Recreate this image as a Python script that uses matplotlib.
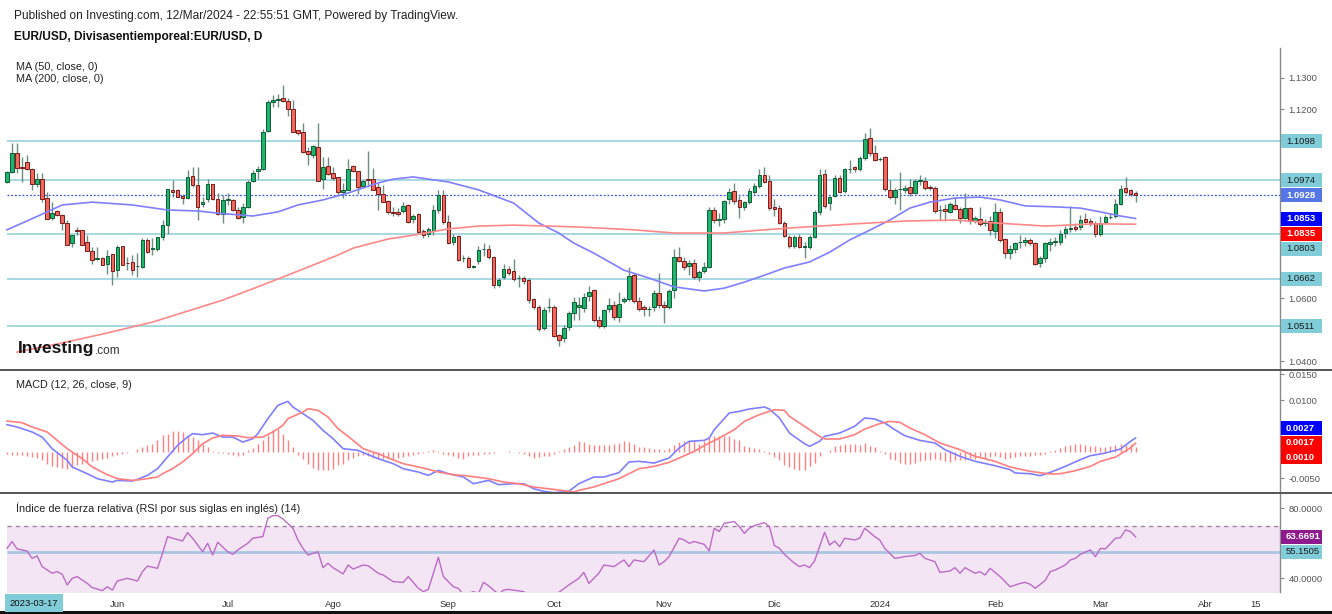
import numpy as np
import pandas as pd
import matplotlib
matplotlib.use("Agg")
import matplotlib.pyplot as plt
from matplotlib.patches import Rectangle
from matplotlib.lines import Line2D

plt.rcParams['font.family'] = ['Liberation Sans', 'DejaVu Sans']

# ---------------- data ----------------
last_date = '2024-03-12'

opens = [
1.0970,1.1000,1.1060,1.1015,1.1033,1.1009,1.0961,1.0980,1.0917,1.0856,
1.0876,1.0864,1.0840,1.0774,1.0816,1.0816,1.0777,1.0750,1.0726,1.0728,
1.0710,1.0739,1.0691,1.0765,1.0712,1.0715,1.0702,1.0699,1.0784,1.0756,
1.0756,1.0795,1.0832,1.0944,1.0944,1.0924,1.0917,1.0988,1.0959,1.0898,
1.0914,1.0961,1.0915,1.0866,1.0912,1.0912,1.0880,1.0859,1.0889,1.0972,
1.1005,1.1009,1.1131,1.1224,1.1229,1.1237,1.1226,1.1200,1.1134,1.1129,
1.1067,1.1055,1.1081,1.0978,1.1021,1.0996,1.0984,1.0938,1.0944,1.1020,
1.1004,1.0956,1.0977,1.0980,1.0954,1.0930,1.0909,1.0875,1.0875,1.0878,
1.0896,1.0850,1.0866,1.0813,1.0804,1.0813,1.0880,1.0928,1.0841,1.0780,
1.0798,1.0727,1.0729,1.0700,1.0718,1.0756,1.0756,1.0730,1.0642,1.0666,
1.0692,1.0686,1.0663,1.0663,1.0658,1.0596,1.0573,1.0504,1.0571,1.0571,
1.0483,1.0473,1.0510,1.0552,1.0573,1.0570,1.0608,1.0626,1.0531,1.0512,
1.0565,1.0579,1.0539,1.0591,1.0597,1.0674,1.0591,1.0573,1.0565,1.0571,
1.0618,1.0579,1.0573,1.0626,1.0730,1.0719,1.0702,1.0711,1.0668,1.0686,
1.0700,1.0880,1.0848,1.0851,1.0914,1.0940,1.0912,1.0888,1.0906,1.0938,
1.0956,1.0991,1.0972,1.0889,1.0887,1.0838,1.0795,1.0766,1.0795,1.0764,
1.0764,1.0795,1.0873,1.0993,1.0903,1.0926,1.0981,1.0940,1.1009,1.1016,
1.1010,1.1044,1.1108,1.1060,1.1041,1.1047,1.0944,1.0922,1.0946,1.0944,
1.0952,1.0933,1.0973,1.0973,1.0954,1.0951,1.0880,1.0882,1.0875,1.0896,
1.0882,1.0854,1.0885,1.0846,1.0850,1.0838,1.0845,1.0814,1.0875,1.0788,
1.0745,1.0756,1.0777,1.0780,1.0785,1.0774,1.0711,1.0727,1.0772,1.0777,
1.0780,1.0808,1.0819,1.0827,1.0825,1.0850,1.0846,1.0840,1.0804,1.0843,
1.0857,1.0861,1.0898,1.0949,1.0944,1.0933]

highs = [
1.1005,1.1094,1.1094,1.1049,1.1054,1.1012,1.0998,1.0998,1.0938,1.0906,
1.0880,1.0868,1.0848,1.0802,1.0827,1.0818,1.0802,1.0763,1.0763,1.0731,
1.0752,1.0739,1.0768,1.0765,1.0731,1.0737,1.0742,1.0790,1.0790,1.0790,
1.0795,1.0848,1.0946,1.0975,1.0946,1.0930,1.1007,1.1015,1.1015,1.0922,
1.0978,1.0961,1.0933,1.0928,1.0933,1.0914,1.0891,1.0901,1.0975,1.1008,
1.1020,1.1136,1.1228,1.1245,1.1247,1.1277,1.1234,1.1229,1.1134,1.1155,
1.1081,1.1087,1.1155,1.1049,1.1049,1.1018,1.0984,1.0965,1.1042,1.1023,
1.1004,1.0975,1.1068,1.1012,1.0965,1.0959,1.0912,1.0890,1.0885,1.0905,
1.0900,1.0868,1.0872,1.0820,1.0825,1.0895,1.0945,1.0945,1.0865,1.0805,
1.0800,1.0738,1.0734,1.0705,1.0765,1.0775,1.0770,1.0735,1.0664,1.0710,
1.0702,1.0726,1.0675,1.0669,1.0665,1.0600,1.0580,1.0572,1.0600,1.0577,
1.0487,1.0515,1.0560,1.0605,1.0605,1.0617,1.0638,1.0630,1.0545,1.0565,
1.0600,1.0590,1.0621,1.0605,1.0698,1.0680,1.0605,1.0580,1.0575,1.0625,
1.0679,1.0590,1.0630,1.0755,1.0762,1.0730,1.0720,1.0725,1.0690,1.0715,
1.0890,1.0890,1.0870,1.0912,1.0951,1.0967,1.0925,1.0908,1.0950,1.0965,
1.1010,1.1017,1.0990,1.0915,1.0895,1.0845,1.0800,1.0800,1.0805,1.0780,
1.0800,1.0880,1.1009,1.1009,1.0925,1.0990,1.0990,1.1012,1.1039,1.1020,
1.1050,1.1126,1.1139,1.1085,1.1048,1.1050,1.0975,1.0950,1.1002,1.0960,
1.0978,1.0980,1.0990,1.0985,1.0960,1.0955,1.0895,1.0900,1.0905,1.0922,
1.0890,1.0935,1.0890,1.0860,1.0889,1.0850,1.0860,1.0901,1.0885,1.0790,
1.0770,1.0780,1.0800,1.0795,1.0792,1.0780,1.0735,1.0780,1.0790,1.0795,
1.0815,1.0830,1.0893,1.0838,1.0865,1.0869,1.0855,1.0845,1.0861,1.0865,
1.0870,1.0915,1.0960,1.0984,1.0948,1.0940]

lows = [
1.0965,1.0998,1.0996,1.0970,1.1007,1.0943,1.0954,1.0906,1.0851,1.0848,
1.0860,1.0816,1.0768,1.0763,1.0800,1.0768,1.0750,1.0710,1.0721,1.0705,
1.0678,1.0641,1.0668,1.0705,1.0689,1.0673,1.0668,1.0697,1.0745,1.0737,
1.0750,1.0784,1.0805,1.0922,1.0920,1.0899,1.0915,1.0954,1.0848,1.0890,
1.0906,1.0912,1.0864,1.0838,1.0896,1.0878,1.0852,1.0838,1.0885,1.0970,
1.0980,1.1007,1.1128,1.1208,1.1208,1.1224,1.1178,1.1127,1.1118,1.1062,
1.1023,1.1044,1.0972,1.0947,1.0991,1.0975,1.0923,1.0918,1.0942,1.1002,
1.0930,1.0954,1.0954,1.0944,1.0880,1.0905,1.0868,1.0862,1.0860,1.0870,
1.0838,1.0838,1.0806,1.0790,1.0793,1.0800,1.0870,1.0835,1.0772,1.0770,
1.0718,1.0715,1.0696,1.0695,1.0710,1.0735,1.0725,1.0632,1.0635,1.0660,
1.0675,1.0655,1.0635,1.0645,1.0585,1.0565,1.0495,1.0500,1.0555,1.0478,
1.0448,1.0460,1.0500,1.0530,1.0530,1.0555,1.0590,1.0525,1.0505,1.0505,
1.0555,1.0530,1.0525,1.0585,1.0590,1.0585,1.0560,1.0545,1.0545,1.0560,
1.0570,1.0522,1.0565,1.0600,1.0715,1.0690,1.0675,1.0660,1.0655,1.0680,
1.0695,1.0840,1.0830,1.0840,1.0900,1.0900,1.0856,1.0880,1.0900,1.0930,
1.0950,1.0965,1.0880,1.0860,1.0835,1.0795,1.0760,1.0760,1.0760,1.0727,
1.0755,1.0790,1.0865,1.0885,1.0880,1.0920,1.0935,1.0935,1.0996,1.1000,
1.1005,1.1040,1.1050,1.1035,1.1035,1.0940,1.0915,1.0900,1.0880,1.0935,
1.0925,1.0930,1.0960,1.0945,1.0945,1.0870,1.0848,1.0845,1.0870,1.0880,
1.0840,1.0850,1.0835,1.0840,1.0830,1.0830,1.0801,1.0790,1.0780,1.0727,
1.0723,1.0745,1.0760,1.0765,1.0770,1.0705,1.0700,1.0715,1.0750,1.0765,
1.0770,1.0790,1.0810,1.0812,1.0815,1.0840,1.0830,1.0795,1.0796,1.0838,
1.0850,1.0855,1.0895,1.0932,1.0925,1.0907]

closes = [
1.1000,1.1060,1.1012,1.1013,1.1009,1.0961,1.0980,1.0915,1.0851,1.0872,
1.0864,1.0840,1.0770,1.0802,1.0813,1.0770,1.0750,1.0721,1.0726,1.0707,
1.0734,1.0687,1.0763,1.0707,1.0711,1.0691,1.0703,1.0784,1.0747,1.0758,
1.0793,1.0832,1.0946,1.0936,1.0922,1.0917,1.0986,1.0959,1.0890,1.0907,
1.0961,1.0914,1.0866,1.0912,1.0914,1.0880,1.0854,1.0889,1.0968,1.0999,
1.1009,1.1129,1.1224,1.1229,1.1232,1.1226,1.1200,1.1129,1.1124,1.1063,
1.1058,1.1083,1.0973,1.1016,1.0993,1.0981,1.0938,1.0944,1.1010,1.1004,
1.0954,1.0973,1.0976,1.0944,1.0930,1.0907,1.0875,1.0869,1.0867,1.0893,
1.0843,1.0862,1.0811,1.0801,1.0819,1.0880,1.0928,1.0841,1.0776,1.0795,
1.0721,1.0727,1.0700,1.0702,1.0753,1.0756,1.0730,1.0642,1.0658,1.0692,
1.0681,1.0660,1.0664,1.0655,1.0594,1.0573,1.0501,1.0563,1.0571,1.0481,
1.0467,1.0504,1.0552,1.0589,1.0579,1.0605,1.0619,1.0531,1.0512,1.0561,
1.0579,1.0539,1.0581,1.0597,1.0672,1.0591,1.0566,1.0566,1.0566,1.0616,
1.0577,1.0571,1.0623,1.0730,1.0719,1.0700,1.0711,1.0668,1.0684,1.0700,
1.0880,1.0848,1.0851,1.0909,1.0938,1.0909,1.0888,1.0906,1.0940,1.0956,
1.0991,1.0970,1.0887,1.0882,1.0838,1.0798,1.0766,1.0793,1.0764,1.0764,
1.0795,1.0873,1.0991,1.0894,1.0922,1.0981,1.0938,1.1009,1.1010,1.1009,
1.1044,1.1104,1.1060,1.1039,1.1041,1.0946,1.0922,1.0944,1.0946,1.0949,
1.0933,1.0973,1.0973,1.0949,1.0951,1.0877,1.0880,1.0877,1.0898,1.0882,
1.0854,1.0885,1.0848,1.0854,1.0836,1.0843,1.0817,1.0875,1.0785,1.0742,
1.0756,1.0774,1.0777,1.0785,1.0774,1.0709,1.0727,1.0774,1.0780,1.0782,
1.0804,1.0819,1.0824,1.0820,1.0848,1.0843,1.0840,1.0804,1.0840,1.0857,
1.0857,1.0898,1.0946,1.0938,1.0931,1.0928]

# moving averages, sampled at candle numbers (1 = first candle)
ma50_idx = [1,9,12,18,26,33,39,43,50,55,59,64,69,75,78,82,89,95,102,107,111,114,118,124,129,
            134,140,144,148,152,156,161,165,169,173,177,181,185,190,195,199,204,210,215,219,223,226]
ma50_val = [1.0817,1.0874,1.0896,1.0905,1.0896,1.0880,1.0877,1.0870,1.0861,1.0874,1.0896,1.0912,
            1.0934,1.0966,1.0978,1.0985,1.0969,1.0944,1.0902,1.0839,1.0807,1.0775,1.0743,1.0689,
            1.0664,1.0636,1.0623,1.0632,1.0651,1.0673,1.0696,1.0715,1.0746,1.0785,1.0816,1.0848,
            1.0886,1.0905,1.0918,1.0921,1.0912,1.0893,1.0890,1.0886,1.0874,1.0861,1.0853]
ma200_idx = [3,12,20,30,39,44,51,59,67,70,77,82,89,95,102,109,115,126,134,144,152,160,170,180,
             190,198,208,218,226]
ma200_val = [1.0429,1.0458,1.0486,1.0524,1.0569,1.0594,1.0636,1.0686,1.0737,1.0759,1.0788,1.0800,
             1.0820,1.0829,1.0832,1.0829,1.0826,1.0817,1.0807,1.0807,1.0817,1.0826,1.0836,1.0845,
             1.0848,1.0839,1.0829,1.0836,1.0835]

# horizontal drawing levels
levels = [1.1098, 1.0974, 1.0803, 1.0662, 1.0511]

# MACD (12, 26, close, 9)
macd_idx = [1,3,6,8,10,13,14,17,19,22,23,26,27,29,31,33,35,37,38,40,42,44,46,48,50,51,53,55,57,58,
            60,62,64,66,68,71,73,75,78,80,83,85,87,89,92,94,97,99,102,104,106,108,110,113,115,118,
            120,123,125,127,130,132,133,135,137,140,141,142,145,147,149,152,153,155,157,160,161,163,
            164,167,170,172,174,176,178,180,183,186,188,191,194,198,201,202,205,207,209,212,215,217,
            220,223,225,226]
macd_val = [0.00526,0.00481,0.00385,0.00288,0.00064,-0.00160,-0.00288,-0.00417,-0.00513,-0.00577,
            -0.00545,-0.00558,-0.00526,-0.00449,-0.00321,-0.00096,0.00128,0.00288,0.00353,0.00333,
            0.00365,0.00288,0.00288,0.00192,0.00256,0.00353,0.00641,0.00897,0.00974,0.00865,
            0.00737,0.00609,0.00417,0.00256,0.00064,0.00032,-0.00051,-0.00128,-0.00224,-0.00321,
            -0.00385,-0.00449,-0.00353,-0.00417,-0.00481,-0.00609,-0.00545,-0.00628,-0.00609,-0.00609,
            -0.00705,-0.00756,-0.00782,-0.00756,-0.00609,-0.00481,-0.00481,-0.00397,-0.00192,-0.00179,
            -0.00212,-0.00147,-0.00115,0.00077,0.00205,0.00224,0.00269,0.00429,0.00750,0.00782,
            0.00827,0.00865,0.00827,0.00654,0.00365,0.00160,0.00109,0.00205,0.00301,0.00365,
            0.00494,0.00654,0.00635,0.00558,0.00429,0.00314,0.00224,0.00173,0.00045,-0.00083,
            -0.00179,-0.00263,-0.00340,-0.00404,-0.00417,-0.00455,-0.00391,-0.00276,-0.00147,-0.00071,
            -0.00019,0.00058,0.00205,0.00270]
sig_idx = [1,4,6,9,11,13,16,18,21,23,26,28,31,32,34,36,38,40,42,44,47,49,52,54,56,57,60,61,63,65,
           67,70,72,75,77,80,84,87,90,93,97,100,103,106,110,113,114,115,118,120,123,125,127,130,133,
           135,138,140,143,146,148,151,154,156,157,160,163,164,167,170,172,175,177,179,181,184,187,
           191,194,198,201,205,209,211,214,217,219,222,225,226]
sig_val = [0.00596,0.00564,0.00481,0.00385,0.00224,0.00064,-0.00128,-0.00288,-0.00436,-0.00513,
           -0.00545,-0.00526,-0.00481,-0.00417,-0.00321,-0.00192,-0.00032,0.00160,0.00269,0.00321,
           0.00308,0.00276,0.00288,0.00385,0.00513,0.00641,0.00769,0.00833,0.00801,0.00673,
           0.00449,0.00224,0.00064,-0.00032,-0.00115,-0.00224,-0.00308,-0.00385,-0.00436,-0.00462,
           -0.00513,-0.00577,-0.00609,-0.00673,-0.00718,-0.00756,-0.00769,-0.00737,-0.00673,-0.00609,
           -0.00513,-0.00417,-0.00321,-0.00276,-0.00199,-0.00115,0.00013,0.00122,0.00269,0.00429,
           0.00590,0.00718,0.00814,0.00801,0.00686,0.00494,0.00301,0.00250,0.00250,0.00333,
           0.00442,0.00545,0.00590,0.00571,0.00462,0.00333,0.00173,0.00045,-0.00083,-0.00179,
           -0.00288,-0.00372,-0.00423,-0.00417,-0.00359,-0.00276,-0.00179,-0.00096,0.00080,0.00170]
hist_val = [
-0.00038,-0.00051,-0.00051,-0.00064,-0.00077,-0.00096,-0.00115,-0.00160,-0.00224,-0.00269,
-0.00288,-0.00308,-0.00321,-0.00301,-0.00256,-0.00224,-0.00192,-0.00179,-0.00160,-0.00141,
-0.00115,-0.00077,-0.00051,-0.00032,-0.00013,0.0,
0.00064,0.00096,0.00128,0.00160,0.00224,0.00321,0.00353,0.00397,0.00397,0.00385,
0.00321,0.00288,0.00224,0.00160,0.00096,0.00013,-0.00013,-0.00013,-0.00032,-0.00051,
-0.00077,-0.00051,0.00032,0.00077,0.00160,0.00224,0.00321,0.00417,0.00449,0.00353,
0.00224,0.00096,-0.00064,-0.00128,-0.00224,-0.00308,-0.00340,-0.00340,-0.00340,-0.00321,
-0.00256,-0.00224,-0.00160,-0.00115,-0.00077,-0.00051,-0.00077,-0.00115,-0.00128,-0.00128,
-0.00115,-0.00128,-0.00115,-0.00096,-0.00077,-0.00051,-0.00032,-0.00013,0.00013,0.00045,
0.00013,-0.00032,-0.00051,-0.00077,-0.00115,-0.00128,-0.00077,-0.00051,-0.00064,-0.00032,
-0.00032,-0.00013,0.0,0.0,0.00013,0.0,-0.00013,-0.00032,-0.00077,-0.00115,
-0.00096,-0.00077,-0.00077,-0.00032,0.00013,0.00064,0.00096,0.00128,0.00205,0.00192,
0.00160,0.00141,0.00141,0.00128,0.00141,0.00160,0.00179,0.00205,0.00190,0.00150,
0.00096,0.00090,0.00077,0.00064,0.00058,0.00045,0.00077,0.00141,0.00186,0.00205,
0.00205,0.00218,0.00160,0.00205,0.00269,0.00301,0.00314,0.00301,0.00314,0.00250,
0.00237,0.00122,0.00096,0.00077,0.00058,0.00013,-0.00032,-0.00096,-0.00147,-0.00244,
-0.00288,-0.00327,-0.00353,-0.00340,-0.00276,-0.00212,-0.00071,-0.00006,0.00045,0.00109,
0.00141,0.00160,0.00160,0.00160,0.00141,0.00173,0.00122,0.00096,0.00013,-0.00032,
-0.00135,-0.00160,-0.00212,-0.00224,-0.00231,-0.00212,-0.00179,-0.00160,-0.00147,-0.00135,
-0.00147,-0.00179,-0.00199,-0.00160,-0.00147,-0.00160,-0.00115,-0.00135,-0.00096,-0.00115,
-0.00096,-0.00083,-0.00096,-0.00135,-0.00115,-0.00096,-0.00071,-0.00071,-0.00071,-0.00051,
-0.00051,-0.00032,0.00013,0.00045,0.00077,0.00109,0.00141,0.00160,0.00160,0.00141,
0.00122,0.00109,0.00096,0.00096,0.00122,0.00141,0.00160,0.00141,0.00160,0.00100]

# RSI (14)
rsi_idx = [1,2,3,5,6,7,8,10,11,12,13,14,15,17,18,19,20,21,22,23,25,27,28,29,31,32,33,34,36,37,
           38,40,41,42,43,45,46,47,49,50,52,53,54,55,56,58,59,60,61,63,64,65,66,68,69,70,72,73,75,76,
           78,80,81,83,84,85,86,87,88,90,91,92,94,95,96,97,99,100,101,103,104,105,107,109,110,111,113,
           115,116,117,119,120,122,124,125,126,128,130,131,132,133,135,136,137,138,140,141,142,143,144,
           146,147,148,149,150,152,153,154,155,156,158,159,160,161,162,164,165,166,167,168,170,171,172,
           174,175,176,178,179,180,182,183,184,186,187,189,190,191,192,194,195,196,197,199,200,201,203,
           204,205,206,208,209,210,212,213,214,215,217,218,219,220,222,223,224,225,226]
rsi_val = [57.1,61.0,56.8,55.6,51.4,52.8,46.7,42.9,43.8,42.3,36.2,40.0,41.0,37.1,34.7,33.9,33.0,35.2,
           33.3,38.5,40.0,38.5,43.8,47.0,45.7,54.3,63.8,62.9,61.3,66.1,62.9,55.2,60.0,53.3,60.6,55.2,
           53.7,56.2,60.0,62.9,63.8,74.3,75.8,75.8,73.9,68.6,61.9,57.1,53.3,55.2,46.1,48.6,46.1,42.5,
           47.6,45.3,47.6,47.2,42.9,41.9,38.1,37.7,41.0,34.3,32.4,33.7,42.9,52.0,41.0,35.2,34.3,30.5,
           32.4,31.4,37.7,35.8,30.9,33.3,33.7,32.8,32.4,30.5,28.6,30.5,29.5,32.0,36.2,40.0,43.4,37.1,
           42.9,47.6,46.7,50.5,46.7,50.5,49.5,56.2,47.6,49.5,52.4,62.9,61.9,60.0,61.0,59.4,55.6,68.6,
           66.7,71.4,72.4,69.5,65.7,68.6,70.1,71.8,69.5,58.7,57.1,53.7,48.6,46.7,47.6,46.1,49.9,66.3,
           59.0,61.3,58.1,62.9,61.9,62.9,68.6,63.8,61.9,57.1,51.4,51.8,52.4,53.0,54.3,51.4,49.5,43.4,
           44.2,46.1,42.9,46.1,42.9,43.8,41.9,45.7,41.0,38.1,35.2,37.1,37.7,36.6,34.3,38.9,43.8,44.8,
           47.6,50.5,51.4,53.7,56.2,52.4,57.1,56.8,62.9,63.2,67.6,66.7,63.6691]
rsi_level = 55.1505
rsi_band = (30, 70)

tick_dates = ['2023-06-01','2023-07-03','2023-08-01','2023-09-01','2023-10-02','2023-11-01',
              '2023-12-01','2024-01-01','2024-02-01','2024-03-01','2024-04-01','2024-04-15']
tick_labels = ['Jun','Jul','Ago','Sep','Oct','Nov','Dic','2024','Feb','Mar','Abr','15']

# ---------------- figure ----------------
W, H = 1332, 614
fig = plt.figure(figsize=(W/100, H/100), dpi=100)
fig.patch.set_facecolor('white')

def fr(x0, y_top, x1, y_bot):
    return [x0/W, 1 - y_bot/H, (x1-x0)/W, (y_bot-y_top)/H]

ax = fig.add_axes(fr(0, 48, 1280, 370))
axm = fig.add_axes(fr(0, 370, 1280, 493))
axr = fig.add_axes(fr(0, 493, 1280, 592))

N = len(closes)
x = np.arange(N)
dates = pd.bdate_range(end=last_date, periods=N)
ext = pd.bdate_range(start=dates[0], periods=N + 40)
XL = (-1.4, 253.8)

GRAY = '#8a8a8a'
for a in (ax, axm, axr):
    a.set_xlim(*XL)
    for s in ('top', 'left', 'bottom'):
        a.spines[s].set_visible(False)
    a.spines['right'].set_color(GRAY)
    a.spines['right'].set_linewidth(1)
    a.yaxis.tick_right()
    a.tick_params(axis='y', direction='out', length=3, width=0.8, color=GRAY,
                  labelsize=6.8, labelcolor='#555555', pad=3)
    a.tick_params(axis='x', length=0)
    a.set_xticks([])
    a.set_facecolor('none')
    a.yaxis.set_major_formatter(matplotlib.ticker.FormatStrFormatter('%.4f'))

# ---- main price panel ----
o = np.array(opens); h = np.array(highs); l = np.array(lows); c = np.array(closes)
up = c >= o
ax.vlines(x, l, h, color='#5d8270', lw=1.0, alpha=0.9, zorder=2)
body_lo = np.minimum(o, c)
body_h = np.maximum(np.abs(c - o), 0.00015)
ax.bar(x[up], body_h[up], bottom=body_lo[up], width=0.72, color='#1fb36c',
       edgecolor='#0d5f37', linewidth=0.7, zorder=3)
ax.bar(x[~up], body_h[~up], bottom=body_lo[~up], width=0.72, color='#f0675c',
       edgecolor='#7a1c1c', linewidth=0.7, zorder=3)

ax.plot(np.array(ma50_idx) - 1, ma50_val, color='#7f7fff', lw=1.2, zorder=4)
ax.plot(np.array(ma200_idx) - 1, ma200_val, color='#ff8888', lw=1.2, zorder=4)
ax.hlines(levels, 0, XL[1], color='#9fd6e0', lw=1.3, zorder=1)
ax.hlines(closes[-1], 0, XL[1], color='#3355ee', lw=0.9, linestyles=(0, (1.5, 1.5)), zorder=1)
ax.set_ylim(1.03721, 1.13943)

# ---- MACD panel ----
axm.vlines(x[:len(hist_val)], 0, hist_val, color='#ff6b6b', lw=1.0, alpha=0.85, zorder=2)
axm.plot(np.array(macd_idx) - 1, macd_val, color='#7f7fff', lw=1.2, zorder=3)
axm.plot(np.array(sig_idx) - 1, sig_val, color='#ff7f7f', lw=1.2, zorder=3)
axm.set_ylim(-0.00788, 0.01577)

# ---- RSI panel ----
axr.fill_between([0, XL[1]], rsi_band[0], rsi_band[1], color='#f3e5f3', zorder=0, lw=0)
axr.hlines(rsi_band[1], 0, XL[1], color='#9c849c', lw=1.0, linestyles=(0, (3, 3)), zorder=1)
axr.hlines(rsi_band[0], 0, XL[1], color='#9c849c', lw=1.0, linestyles=(0, (3, 3)), zorder=1)
axr.hlines(rsi_level, 0, XL[1], color='#aac6e2', lw=2.0, zorder=1)
axr.plot(np.array(rsi_idx) - 1, rsi_val, color='#bb6bc6', lw=1.0, zorder=3)
axr.set_ylim(32.2, 88.7)

tick_pos = [ext.get_loc(pd.Timestamp(d)) for d in tick_dates]
axr.set_xticks(tick_pos)
axr.set_xticklabels(tick_labels, fontsize=6.8, color='#333333')
axr.tick_params(axis='x', length=0, pad=6)

# ---------------- value boxes on the price scales ----------------
def value_boxes(a, items, gap=15.0, mode='down'):
    ys = [a.transData.transform((0, v))[1] for v, *_ in items]
    order = np.argsort(ys)[::-1]
    true = np.array([ys[i] for i in order])
    placed = true.copy()
    for k in range(1, len(placed)):
        placed[k] = min(placed[k], placed[k-1] - gap)
    if mode == 'center':
        placed += true.mean() - placed.mean()
    for k, i in enumerate(order):
        v, bg, fg, bold = items[i]
        yy = placed[k]
        fig.add_artist(Rectangle((1281/W, (yy - 7)/H), 41/W, 14/H, transform=fig.transFigure,
                                 facecolor=bg, edgecolor='none', zorder=5))
        fig.text(1286/W, yy/H, f'{v:.4f}', ha='left', va='center', fontsize=6.8,
                 color=fg, fontweight='bold' if bold else 'normal', zorder=6)
    return placed

def free_ticks(a, candidates, placed, clearance=12.0):
    keep = []
    for t in candidates:
        ty = a.transData.transform((0, t))[1]
        if np.all(np.abs(placed - ty) > clearance):
            keep.append(t)
    a.set_yticks(keep)

CY = '#80cdd9'
pm = value_boxes(ax, [(lv, CY, '#1a1a1a', False) for lv in levels] +
                 [(closes[-1], '#5577e6', 'white', True),
                  (ma50_val[-1], '#0000ff', 'white', True),
                  (ma200_val[-1], '#ff0000', 'white', True)], gap=15.0, mode='down')
pmacd = value_boxes(axm, [(macd_val[-1], '#0000ff', 'white', True),
                          (sig_val[-1], '#ff0000', 'white', True),
                          (hist_val[-1], '#ff0000', 'white', True)], gap=14.5, mode='center')
pr = value_boxes(axr, [(rsi_val[-1], '#8e1a8e', 'white', True),
                       (rsi_level, CY, '#1a1a1a', False)], gap=14.5, mode='down')

free_ticks(ax, np.round(np.arange(1.04, 1.1301, 0.01), 2), pm)
free_ticks(axm, [-0.005, 0.0, 0.005, 0.010, 0.015], pmacd)
free_ticks(axr, [40, 60, 80], pr)

# ---------------- frame lines ----------------
for yy, col, lw in ((370, '#555555', 1.4), (493, '#555555', 1.4), (612, '#111111', 2.2)):
    fig.add_artist(Line2D([0, 1], [1 - yy/H, 1 - yy/H], transform=fig.transFigure,
                          color=col, lw=lw, zorder=4))

# ---------------- texts ----------------
fig.text(14/W, 1 - 16/H, 'Published on Investing.com, 12/Mar/2024 - 22:55:51 GMT, Powered by TradingView.',
         fontsize=8.6, va='center', ha='left', color='#222222')
fig.text(14/W, 1 - 37/H, 'EUR/USD, Divisasentiemporeal:EUR/USD, D', fontsize=8.6,
         fontweight='bold', va='center', ha='left', color='#111111')
fig.text(16/W, 1 - 67/H, 'MA (50, close, 0)', fontsize=7.8, va='center', ha='left', color='#222222')
fig.text(16/W, 1 - 79/H, 'MA (200, close, 0)', fontsize=7.8, va='center', ha='left', color='#222222')
fig.text(16/W, 1 - 385/H, 'MACD (12, 26, close, 9)', fontsize=7.8, va='center', ha='left', color='#222222')
fig.text(16/W, 1 - 508/H, 'Índice de fuerza relativa (RSI por sus siglas en inglés) (14)',
         fontsize=7.8, va='center', ha='left', color='#222222')

logo = fig.text(18/W, 1 - 349/H, 'Investing', fontsize=12.5, fontweight='bold',
                va='center', ha='left', color='#151515', zorder=6)
r = fig.canvas.get_renderer()
bb = logo.get_window_extent(renderer=r)
fig.text(bb.x1/W, 1 - 351/H, '.com', fontsize=8.5, va='center', ha='left', color='#333333', zorder=6)

fig.text(34/W, 1 - 603/H, '2023-03-17', fontsize=6.8, va='center', ha='center', color='#111111',
         zorder=7, bbox=dict(boxstyle='square,pad=0.45', facecolor='#80cdd9', edgecolor='none'))

fig.savefig('out.png', dpi=100)
